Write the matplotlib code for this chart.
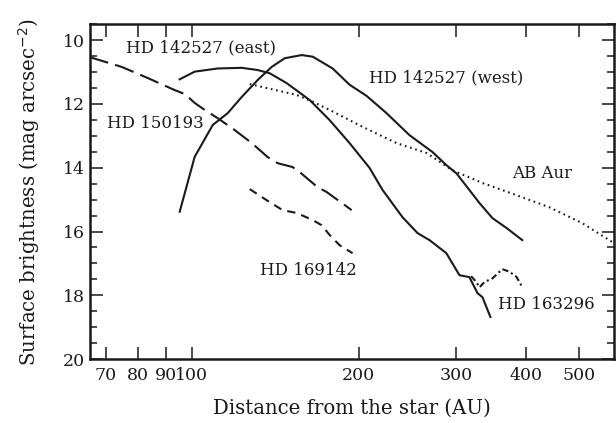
import matplotlib
matplotlib.use("Agg")
import matplotlib.pyplot as plt
from matplotlib.ticker import FixedLocator, MultipleLocator, NullLocator

plt.rcParams['font.family'] = ['DejaVu Serif']

# HD 150193 (long dash)
hd150193_x = [65.3, 74.7, 83.3, 93.2, 97.1, 101.2, 105.5, 111.4, 119.5, 128.3, 137.1, 142.9, 152.0, 156.6, 168.6, 175.0, 188.7, 194.2]
hd150193_y = [10.53, 10.84, 11.19, 11.57, 11.69, 11.97, 12.19, 12.45, 12.82, 13.23, 13.67, 13.86, 13.98, 14.14, 14.61, 14.76, 15.17, 15.33]

# HD 169142 (short dash)
hd169142_x = [127.2, 136.5, 145.8, 154.6, 165.2, 171.4, 177.3, 184.8, 195.0]
hd169142_y = [14.67, 15.02, 15.33, 15.42, 15.64, 15.80, 16.11, 16.43, 16.68]

# HD 142527 (east) continuing into HD 163296 (solid)
east_x = [95.1, 101.2, 111.4, 123.1, 131.5, 138.2, 148.3, 163.2, 177.3, 192.6, 209.3, 220.9, 239.9, 255.4, 268.4, 287.9, 304.0, 316.8, 327.6, 334.5, 345.7]
east_y = [11.23, 10.99, 10.89, 10.87, 10.94, 11.04, 11.35, 11.88, 12.51, 13.23, 14.01, 14.70, 15.55, 16.05, 16.27, 16.68, 17.37, 17.43, 17.93, 18.06, 18.68]

# HD 163296 (dash-dot)
hd163296_x = [319.0, 325.9, 330.4, 337.3, 348.6, 363.3, 374.0, 385.2, 393.6]
hd163296_y = [17.40, 17.58, 17.75, 17.58, 17.47, 17.18, 17.26, 17.42, 17.71]

# HD 142527 (west) (solid)
west_x = [95.1, 101.2, 109.1, 116.1, 123.1, 131.5, 139.4, 147.1, 157.8, 165.2, 179.5, 192.6, 206.7, 224.5, 247.0, 271.8, 287.9, 300.3, 316.8, 330.4, 348.6, 369.6, 394.6]
west_y = [15.38, 13.66, 12.66, 12.29, 11.78, 11.25, 10.84, 10.57, 10.47, 10.52, 10.89, 11.40, 11.75, 12.29, 12.98, 13.51, 13.92, 14.18, 14.70, 15.11, 15.58, 15.89, 16.27]

# AB Aur (dotted)
abaur_x = [127.2, 154.6, 165.2, 177.3, 203.3, 234.1, 265.1, 295.3, 334.5, 385.1, 441.6, 506.5, 573.6, 600.0]
abaur_y = [11.38, 11.72, 11.93, 12.19, 12.72, 13.23, 13.54, 14.08, 14.48, 14.86, 15.24, 15.74, 16.33, 16.55]

xticks = [70, 80, 90, 100, 200, 300, 400, 500]
xtick_labels = ['70', '80', '90', '100', '200', '300', '400', '500']

fig = plt.figure(figsize=(6.16, 4.23), dpi=100)
ax = fig.add_axes([0.146, 0.151, 0.851, 0.792])

c = '#1a1a1a'
lw = 1.5
ax.plot(hd150193_x, hd150193_y, color=c, lw=lw, dashes=(9.5, 3.5))
ax.plot(hd169142_x, hd169142_y, color=c, lw=lw, dashes=(4, 3))
ax.plot(east_x, east_y, color=c, lw=lw)
ax.plot(hd163296_x, hd163296_y, color=c, lw=lw, dashes=(3, 1.5, 1, 1.5))
ax.plot(west_x, west_y, color=c, lw=lw)
ax.plot(abaur_x, abaur_y, color=c, lw=lw, dashes=(0.8, 1.8))

ax.set_xscale('log')
ax.set_xlim(65.5, 578)
ax.set_ylim(20, 9.5)

ax.xaxis.set_major_locator(FixedLocator(xticks))
ax.set_xticklabels(xtick_labels)
ax.xaxis.set_minor_locator(NullLocator())
ax.yaxis.set_major_locator(MultipleLocator(2))
ax.yaxis.set_minor_locator(MultipleLocator(0.5))

ax.tick_params(which='both', direction='in', top=True, right=True, colors=c, labelsize=12.5)
ax.tick_params(which='major', length=9, width=1.1)
ax.tick_params(which='minor', length=5, width=1.1)
ax.tick_params(axis='x', pad=6)
for s in ax.spines.values():
    s.set_linewidth(1.8)
    s.set_color(c)

fs = 12
ax.text(103.8, 10.25, 'HD 142527 (east)', ha='center', va='center', fontsize=fs, color=c)
ax.text(86.1, 12.6, 'HD 150193', ha='center', va='center', fontsize=fs, color=c)
ax.text(287.4, 11.19, 'HD 142527 (west)', ha='center', va='center', fontsize=fs, color=c)
ax.text(428, 14.17, 'AB Aur', ha='center', va='center', fontsize=fs, color=c)
ax.text(162.5, 17.21, 'HD 169142', ha='center', va='center', fontsize=fs, color=c)
ax.text(435.3, 18.28, 'HD 163296', ha='center', va='center', fontsize=fs, color=c)

ax.set_xlabel('Distance from the star (AU)', fontsize=14.2, color=c, labelpad=10)
ax.set_ylabel('Surface brightness (mag arcsec$^{-2}$)', fontsize=14.2, color=c, labelpad=15)

fig.savefig('out.png', dpi=100)
